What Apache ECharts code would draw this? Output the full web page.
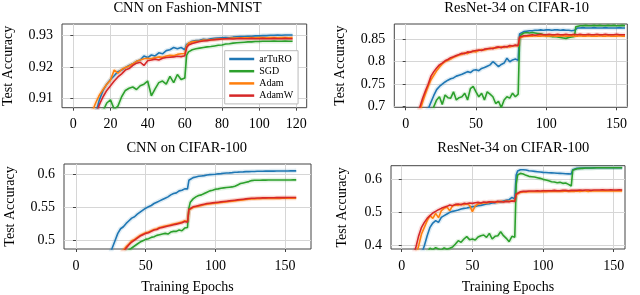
<!DOCTYPE html>
<html><head><meta charset="utf-8">
<script src="https://cdn.jsdelivr.net/npm/echarts@6/dist/echarts.min.js"></script>
<style>html,body{margin:0;padding:0;background:#fff}#c{width:640px;height:295px}</style>
</head><body><div id="c"></div>
<script>
const methods = ['arTuRO', 'SGD', 'Adam', 'AdamW'];
const colors = ['#1f77b4', '#2ca02c', '#ff7f0e', '#d62728'];
const titles = ['CNN on Fashion-MNIST', 'ResNet-34 on CIFAR-10', 'CNN on CIFAR-100', 'ResNet-34 on CIFAR-100'];
const yName = 'Test Accuracy';
const xName = 'Training Epochs';

// ---------- CNN on Fashion-MNIST ----------
const epochsFashion = [10,12,14,16,18,20,22,24,26,28,30,32,34,36,38,40,42,44,46,48,50,52,54,56,58,60,61,62,64,66,68,70,72,74,76,78,80,82,84,86,88,90,92,94,96,98,100,102,104,106,108,110,112,114,116,118];
const fashionArTuRO = [0.900,0.905,0.9095,0.9125,0.9145,0.916,0.9172,0.9185,0.919,0.9198,0.9205,0.921,0.9218,0.9222,0.9235,0.923,0.9238,0.9235,0.9245,0.9242,0.9252,0.9255,0.9262,0.9258,0.9262,0.9255,
  0.9272,
  0.9278,0.9282,0.9284,0.9285,0.9288,0.9287,0.929,0.9291,0.9292,0.9293,0.9294,0.9293,0.9295,0.9296,0.9297,0.9297,0.9298,0.9298,0.9299,0.9299,0.93,0.93,0.9301,0.9301,0.9302,0.9301,0.9302,0.9302,0.9302];
const fashionSGD = [0.900,0.902,0.904,0.906,0.9085,0.9095,0.9065,0.9075,0.9105,0.9125,0.9132,0.9136,0.9128,0.914,0.9145,0.9155,0.9108,0.913,0.915,0.9155,0.9145,0.917,0.915,0.9176,0.916,0.9165,
  0.9238,
  0.9248,0.9255,0.9258,0.926,0.9262,0.9264,0.9265,0.9267,0.9269,0.927,0.9273,0.9274,0.9276,0.9277,0.9278,0.9279,0.928,0.928,0.9281,0.9281,0.9282,0.9282,0.9282,0.9283,0.9282,0.9282,0.9283,0.9282,0.9282];
const fashionAdam = [0.9055,0.9085,0.911,0.9128,0.9145,0.9158,0.919,0.918,0.9192,0.9198,0.9203,0.921,0.9218,0.9222,0.9226,0.9228,0.9226,0.923,0.9232,0.9231,0.9235,0.9237,0.9236,0.924,0.9242,0.9243,
  0.9268,
  0.9276,0.928,0.9282,0.9283,0.9286,0.9285,0.9287,0.9288,0.9289,0.929,0.929,0.9291,0.9292,0.9292,0.9293,0.9293,0.9293,0.9294,0.9293,0.9294,0.9294,0.9293,0.9294,0.9294,0.9293,0.9294,0.9294,0.9293,0.9294];
const fashionAdamW = [0.901,0.9045,0.908,0.9105,0.9125,0.914,0.9155,0.9168,0.9178,0.919,0.9195,0.9205,0.9212,0.9215,0.9205,0.922,0.9222,0.9225,0.9222,0.9228,0.923,0.9231,0.9232,0.9234,0.9233,0.9236,
  0.9262,
  0.927,0.9275,0.9278,0.9281,0.9283,0.9284,0.9286,0.9287,0.9288,0.9289,0.929,0.929,0.9289,0.929,0.9291,0.929,0.929,0.9291,0.929,0.929,0.9291,0.929,0.929,0.9291,0.929,0.929,0.9291,0.929,0.929];

// ---------- ResNet-34 (shared epoch grid) ----------
const epochsResNet = [8,10,12,14,16,18,20,22,24,26,28,30,32,34,36,38,40,42,44,46,48,50,52,54,56,58,60,62,64,66,68,70,72,74,76,78,80,81,82,84,86,88,90,92,94,96,98,100,102,104,106,108,110,112,114,116,118,120,121,122,124,126,128,130,132,134,136,138,140,142,144,146,148,150,152,154,156];

// ResNet-34 on CIFAR-10
const c10ArTuRO = [0.66,0.665,0.675,0.685,0.695,0.71,0.725,0.738,0.745,0.75,0.755,0.759,0.762,0.764,0.768,0.77,0.772,0.775,0.778,0.776,0.781,0.782,0.78,0.785,0.787,0.79,0.793,0.80,0.795,0.789,0.794,0.797,0.808,0.80,0.804,0.806,0.803,
  0.862,
  0.865,0.867,0.868,0.869,0.869,0.87,0.87,0.871,0.87,0.871,0.871,0.87,0.871,0.871,0.87,0.871,0.87,0.87,0.869,0.87,
  0.874,
  0.875,0.875,0.876,0.875,0.875,0.875,0.876,0.875,0.875,0.875,0.876,0.875,0.875,0.875,0.875,0.876,0.875,0.875];
const c10SGD = [0.65,0.655,0.66,0.665,0.67,0.685,0.70,0.715,0.722,0.705,0.726,0.72,0.719,0.733,0.715,0.72,0.722,0.73,0.715,0.74,0.745,0.733,0.722,0.73,0.715,0.733,0.728,0.722,0.707,0.712,0.698,0.715,0.722,0.719,0.73,0.722,0.728,
  0.852,
  0.86,0.864,0.865,0.864,0.865,0.864,0.863,0.862,0.86,0.858,0.857,0.856,0.856,0.855,0.854,0.853,0.852,0.854,0.855,0.856,
  0.878,
  0.879,0.88,0.88,0.881,0.88,0.88,0.881,0.88,0.881,0.88,0.88,0.881,0.88,0.881,0.88,0.88,0.881,0.88];
const c10Adam = [0.675,0.69,0.71,0.728,0.745,0.76,0.77,0.78,0.788,0.795,0.80,0.803,0.806,0.81,0.812,0.815,0.816,0.82,0.818,0.822,0.823,0.822,0.825,0.827,0.826,0.828,0.829,0.831,0.83,0.832,0.833,0.832,0.834,0.833,0.835,0.836,0.835,
  0.853,
  0.855,0.856,0.857,0.857,0.857,0.858,0.857,0.857,0.858,0.857,0.857,0.858,0.857,0.857,0.857,0.858,0.857,0.857,0.858,0.857,
  0.857,
  0.857,0.858,0.857,0.857,0.858,0.857,0.857,0.857,0.858,0.857,0.857,0.858,0.857,0.857,0.857,0.858,0.857,0.857];
const c10AdamW = [0.68,0.698,0.718,0.735,0.75,0.768,0.778,0.786,0.793,0.797,0.802,0.805,0.809,0.811,0.814,0.816,0.819,0.818,0.822,0.821,0.824,0.825,0.826,0.825,0.828,0.829,0.830,0.829,0.832,0.833,0.831,0.834,0.833,0.836,0.835,0.837,0.836,
  0.855,
  0.857,0.858,0.858,0.859,0.86,0.859,0.86,0.861,0.86,0.86,0.861,0.86,0.86,0.861,0.86,0.86,0.861,0.86,0.86,0.861,
  0.86,
  0.86,0.861,0.86,0.86,0.861,0.86,0.86,0.861,0.86,0.86,0.861,0.86,0.86,0.86,0.861,0.86,0.86,0.86];

// ---------- CNN on CIFAR-100 ----------
const epochsCnn100 = [24,26,28,30,32,34,36,38,40,42,44,46,48,50,52,54,56,58,60,62,64,66,68,70,72,74,76,78,80,81,82,84,86,88,90,92,94,96,98,100,102,104,106,108,110,112,114,116,118,120,122,124,126,128,130,132,134,136,138,140,142,144,146,148,150,152,154,156,158];
const c100ArTuRO = [0.478,0.489,0.50,0.511,0.518,0.521,0.526,0.53,0.534,0.536,0.54,0.543,0.546,0.549,0.551,0.553,0.556,0.558,0.56,0.562,0.564,0.566,0.569,0.571,0.572,0.575,0.576,0.578,0.578,
  0.591,
  0.594,0.595,0.596,0.597,0.5975,0.598,0.599,0.5995,0.5998,0.6,0.6007,0.601,0.6015,0.602,0.6022,0.6025,0.603,0.6032,0.6035,0.6037,0.604,0.604,0.6042,0.6043,0.6045,0.6045,0.6046,0.6047,0.6047,0.6048,0.6048,0.6049,0.6049,0.605,0.605,0.605,0.6051,0.6051,0.6052];
const c100SGD = [0.455,0.46,0.465,0.47,0.474,0.478,0.482,0.486,0.489,0.492,0.495,0.498,0.50,0.502,0.503,0.505,0.506,0.508,0.509,0.51,0.511,0.51,0.513,0.514,0.514,0.516,0.515,0.519,0.52,
  0.549,
  0.558,0.563,0.566,0.568,0.569,0.571,0.573,0.575,0.576,0.5775,0.578,0.579,0.5795,0.58,0.5805,0.581,0.582,0.584,0.586,0.587,0.588,0.589,0.5905,0.591,0.591,0.591,0.5912,0.5912,0.5913,0.5913,0.5914,0.5914,0.5914,0.5915,0.5915,0.5915,0.5915,0.5916,0.5916];
const c100Adam = [0.452,0.46,0.467,0.474,0.48,0.486,0.491,0.495,0.50,0.502,0.505,0.508,0.51,0.512,0.513,0.515,0.517,0.518,0.52,0.521,0.522,0.523,0.524,0.525,0.526,0.527,0.528,0.53,0.529,
  0.546,
  0.548,0.55,0.551,0.552,0.553,0.554,0.555,0.5555,0.556,0.5565,0.557,0.5575,0.558,0.5585,0.559,0.5595,0.56,0.5605,0.561,0.5615,0.562,0.5625,0.563,0.563,0.5632,0.5634,0.5635,0.5635,0.5636,0.5637,0.5637,0.5638,0.5638,0.5639,0.5639,0.564,0.564,0.564,0.564];
const c100AdamW = [0.45,0.458,0.465,0.472,0.478,0.484,0.489,0.494,0.498,0.501,0.504,0.507,0.509,0.511,0.512,0.514,0.516,0.517,0.519,0.52,0.521,0.522,0.523,0.524,0.525,0.526,0.527,0.529,0.528,
  0.547,
  0.549,0.551,0.552,0.553,0.554,0.555,0.556,0.5565,0.557,0.5575,0.558,0.5585,0.559,0.5595,0.56,0.5605,0.561,0.5615,0.562,0.5625,0.563,0.5635,0.564,0.564,0.5642,0.5644,0.5645,0.5645,0.5646,0.5647,0.5647,0.5648,0.5648,0.5649,0.5649,0.565,0.565,0.565,0.565];

// ---------- ResNet-34 on CIFAR-100 ----------
const r100ArTuRO = [0.33,0.34,0.355,0.375,0.40,0.43,0.455,0.468,0.475,0.47,0.485,0.49,0.495,0.50,0.503,0.505,0.507,0.51,0.512,0.513,0.515,0.517,0.518,0.52,0.521,0.523,0.525,0.526,0.528,0.529,0.531,0.532,0.534,0.536,0.538,0.545,0.54,
  0.612,
  0.624,0.628,0.628,0.627,0.625,0.624,0.623,0.622,0.621,0.62,0.6195,0.619,0.6185,0.618,0.6175,0.617,0.6165,0.616,0.6155,0.615,
  0.628,
  0.631,0.632,0.632,0.633,0.633,0.633,0.633,0.634,0.634,0.634,0.634,0.634,0.634,0.634,0.634,0.634,0.634,0.634];
const r100SGD = [0.33,0.34,0.35,0.36,0.37,0.38,0.392,0.388,0.394,0.39,0.387,0.393,0.389,0.392,0.396,0.405,0.415,0.41,0.42,0.427,0.418,0.42,0.417,0.426,0.43,0.432,0.425,0.437,0.42,0.428,0.43,0.442,0.43,0.422,0.412,0.428,0.425,
  0.585,
  0.612,0.617,0.615,0.611,0.608,0.607,0.606,0.604,0.602,0.599,0.597,0.595,0.592,0.591,0.589,0.59,0.587,0.588,0.584,0.579,
  0.626,
  0.629,0.631,0.632,0.632,0.633,0.633,0.633,0.633,0.634,0.634,0.634,0.634,0.634,0.634,0.634,0.634,0.634,0.634];
const r100Adam = [0.35,0.37,0.40,0.435,0.455,0.475,0.49,0.482,0.497,0.484,0.505,0.512,0.516,0.505,0.52,0.522,0.521,0.524,0.523,0.526,0.521,0.502,0.519,0.525,0.527,0.529,0.528,0.53,0.532,0.531,0.53,0.533,0.532,0.534,0.533,0.535,0.534,
  0.553,
  0.558,0.56,0.561,0.561,0.562,0.562,0.562,0.562,0.562,0.563,0.562,0.563,0.563,0.563,0.563,0.563,0.563,0.564,0.563,0.563,
  0.563,
  0.563,0.564,0.563,0.564,0.564,0.563,0.564,0.564,0.564,0.564,0.564,0.565,0.564,0.564,0.564,0.565,0.564,0.564];
const r100AdamW = [0.37,0.395,0.43,0.455,0.47,0.482,0.49,0.498,0.503,0.508,0.512,0.515,0.518,0.522,0.52,0.524,0.525,0.523,0.527,0.526,0.528,0.527,0.529,0.53,0.528,0.531,0.53,0.532,0.531,0.53,0.533,0.532,0.531,0.533,0.532,0.534,0.533,
  0.555,
  0.56,0.562,0.563,0.563,0.564,0.564,0.564,0.565,0.564,0.565,0.565,0.565,0.565,0.566,0.565,0.565,0.566,0.566,0.565,0.566,
  0.566,
  0.566,0.566,0.567,0.566,0.567,0.567,0.566,0.567,0.567,0.567,0.568,0.567,0.567,0.568,0.567,0.567,0.568,0.567];

// tick values
const xTicksFashion = [0, 20, 40, 60, 80, 100, 120];
const xTicks160 = [0, 50, 100, 150];
const yTicksFashion = [0.91, 0.92, 0.93];
const yTicksC10 = [0.7, 0.75, 0.8, 0.85];
const yTicksCnn100 = [0.5, 0.55, 0.6];
const yTicksR100 = [0.4, 0.5, 0.6];

// ---------- layout ----------
const FONT = 'Liberation Serif';
const panels = [
  {grid:{left:60.5, top:24, width:246.2, height:83.7}, x:[-6.1,125.6], xs:6, y:[0.907,0.9337], ys:3,
   xt:xTicksFashion, yt:yTicksFashion, epochs:epochsFashion, vals:[fashionArTuRO,fashionSGD,fashionAdam,fashionAdamW],
   title:[187.5,1], nameGap:47, xname:false},
  {grid:{left:394.3, top:24, width:233, height:83.3}, x:[-8.1,157.6], xs:3, y:[0.6986,0.884], ys:4,
   xt:xTicks160, yt:yTicksC10, epochs:epochsResNet, vals:[c10ArTuRO,c10SGD,c10Adam,c10AdamW],
   title:[516.7,1], nameGap:47, xname:false},
  {grid:{left:64, top:164, width:247, height:85}, x:[-8.6,168.6], xs:3, y:[0.4875,0.6155], ys:3,
   xt:xTicks160, yt:yTicksCnn100, epochs:epochsCnn100, vals:[c100ArTuRO,c100SGD,c100Adam,c100AdamW],
   title:[186.7,140.5], nameGap:47, xname:true},
  {grid:{left:391, top:165.7, width:234, height:83.3}, x:[-7.6,158], xs:3, y:[0.39,0.64], ys:3,
   xt:xTicks160, yt:yTicksR100, epochs:epochsResNet, vals:[r100ArTuRO,r100SGD,r100Adam,r100AdamW],
   title:[513.3,140.5], nameGap:42, xname:true}
];

function onTicks(list){
  return v => list.some(t => Math.abs(t - v) < 1e-7) ? String(+v.toFixed(4)) : '';
}
const grids = [], xAxes = [], yAxes = [], series = [], titleOpts = [];
panels.forEach((p, gi) => {
  grids.push(Object.assign({show:true, borderColor:'#444', borderWidth:1, backgroundColor:'transparent', containLabel:false}, p.grid));
  xAxes.push({type:'value', gridIndex:gi, min:p.x[0], max:p.x[1], splitNumber:p.xs,
    name: p.xname ? xName : '', nameLocation:'middle', nameGap:31,
    nameTextStyle:{fontFamily:FONT, fontSize:14, color:'#000'},
    axisLine:{show:false},
    axisTick:{show:true, length:3, lineStyle:{color:'#444'}, customValues:p.xt},
    axisLabel:{fontFamily:FONT, fontSize:14, color:'#000', margin:10, formatter:onTicks(p.xt), customValues:p.xt},
    splitLine:{show:true, lineStyle:{color:'#d6d6d6', width:1}}});
  yAxes.push({type:'value', gridIndex:gi, min:p.y[0], max:p.y[1], splitNumber:p.ys,
    name: yName, nameLocation:'middle', nameRotate:90, nameGap:p.nameGap,
    nameTextStyle:{fontFamily:FONT, fontSize:14, color:'#000'},
    axisLine:{show:false},
    axisTick:{show:true, length:3, lineStyle:{color:'#444'}, customValues:p.yt},
    axisLabel:{fontFamily:FONT, fontSize:14, color:'#000', margin:9, formatter:onTicks(p.yt), customValues:p.yt},
    splitLine:{show:true, lineStyle:{color:'#d6d6d6', width:1}}});
  titleOpts.push({text:titles[gi], left:p.title[0], top:p.title[1], textAlign:'center', padding:0,
    textStyle:{fontFamily:FONT, fontSize:14.5, fontWeight:'normal', color:'#000'}});
  p.vals.forEach((vals, mi) => {
    series.push({type:'line', name:methods[mi] + ' spread', xAxisIndex:gi, yAxisIndex:gi,
      data:p.epochs.map((e, i) => [e, vals[i]]), symbol:'none', showSymbol:false, silent:true,
      clip:true, z:1, emphasis:{disabled:true},
      lineStyle:{color:colors[mi], width:4.5, opacity:0.14}, itemStyle:{color:colors[mi]}});
  });
  p.vals.forEach((vals, mi) => {
    series.push({type:'line', name:methods[mi], xAxisIndex:gi, yAxisIndex:gi,
      data:p.epochs.map((e, i) => [e, vals[i]]), symbol:'none', showSymbol:false,
      clip:true, z:2, emphasis:{disabled:true},
      lineStyle:{color:colors[mi], width:1.6}, itemStyle:{color:colors[mi]}});
  });
});

const chart = echarts.init(document.getElementById('c'), null, {renderer:'canvas'});
chart.setOption({
  animation:false,
  backgroundColor:'#fff',
  title:titleOpts,
  legend:{data:methods, orient:'vertical', left:224.7, top:50.7, icon:'rect', itemWidth:25, itemHeight:2.5, itemGap:0,
    padding:[2.2,5,2.2,4.5], backgroundColor:'#fff', borderColor:'#bbb', borderWidth:1, borderRadius:0,
    selectedMode:false, textStyle:{fontFamily:FONT, fontSize:10, lineHeight:12.2, color:'#000'}},
  grid:grids, xAxis:xAxes, yAxis:yAxes, series:series
});
</script></body></html>
